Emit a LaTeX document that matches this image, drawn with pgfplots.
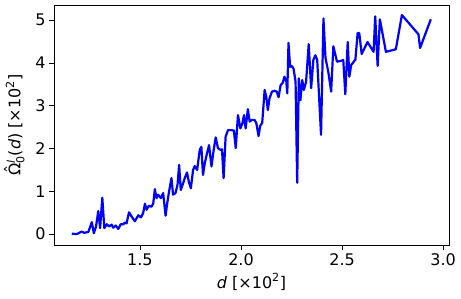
\documentclass[border=0pt]{standalone}
\usepackage{fontspec}
\setmainfont{DejaVu Sans}
\usepackage{pgfplots}
\pgfplotsset{compat=1.18}
\newcommand{\hatOmega}{\setbox0\hbox{Ω}\rlap{\hbox to \wd0{\hss\raisebox{0.22em}{ˆ}\hss}}\box0}
\begin{document}
\begin{tikzpicture}
\begin{axis}[
  scale only axis, width=395pt, height=240pt,
  xmin=1.075, xmax=3.029, ymin=-0.255, ymax=5.355,
  xtick={1.5,2.0,2.5,3.0}, xticklabels={1.5,2.0,2.5,3.0},
  ytick={0,1,2,3,4,5},
  tick align=outside, tick pos=left,
  major tick length=5pt,
  tick style={black, line width=0.8pt},
  axis line style={line width=0.8pt},
  ticklabel style={font=\fontsize{16}{18}\selectfont},
  /pgf/number format/assume math mode=true,
  label style={font=\fontsize{16}{18}\selectfont},
  xlabel={\textit{d} [×10\textsuperscript{2}]},
  ylabel={\hatOmega\rlap{\raisebox{0.6ex}{\fontsize{11}{11}\selectfont\textit{l}}}\raisebox{-0.45ex}{\fontsize{11}{11}\selectfont 0}(\textit{d}) [×10\textsuperscript{2}]},
  xlabel style={at={(axis description cs:0.5,0)}, anchor=north, yshift=-25pt},
  ylabel style={at={(axis description cs:0,0.5)}, anchor=south, yshift=26pt},
]
\addplot[color={rgb,255:red,0;green,0;blue,255}, line width=2.2pt, line join=round] coordinates {
(1.163,0.01) (1.188,0.00) (1.212,0.06) (1.225,0.03) (1.245,0.05) (1.262,0.28)
(1.272,0.02) (1.283,0.18) (1.294,0.54) (1.303,0.14) (1.314,0.85) (1.324,0.14)
(1.336,0.23) (1.347,0.18) (1.360,0.22) (1.368,0.15) (1.380,0.20) (1.393,0.12)
(1.405,0.23) (1.418,0.23) (1.426,0.27) (1.434,0.25) (1.446,0.51) (1.459,0.41)
(1.475,0.30) (1.492,0.44) (1.505,0.39) (1.516,0.49) (1.525,0.71) (1.533,0.57)
(1.544,0.66) (1.558,0.64) (1.566,0.72) (1.574,1.05) (1.582,0.84) (1.590,0.92)
(1.604,0.84) (1.615,0.96) (1.627,0.43) (1.635,0.72) (1.643,0.96) (1.656,1.31)
(1.664,0.92) (1.676,0.96) (1.686,1.15) (1.694,1.62) (1.702,1.03) (1.714,1.19)
(1.722,1.31) (1.733,1.44) (1.743,1.20) (1.752,1.07) (1.763,1.50) (1.771,1.59)
(1.783,1.50) (1.796,1.97) (1.804,2.04) (1.812,1.38) (1.821,1.66) (1.832,1.89)
(1.842,2.08) (1.854,1.58) (1.865,1.97) (1.875,2.26) (1.886,2.01) (1.898,1.97)
(1.906,1.98) (1.914,1.31) (1.924,2.28) (1.936,2.43) (1.952,2.43) (1.965,2.42)
(1.974,2.01) (1.985,2.78) (1.997,2.47) (2.007,2.59) (2.015,2.78) (2.023,2.47)
(2.034,2.92) (2.043,2.63) (2.054,2.67) (2.067,2.67) (2.076,2.59) (2.087,2.29)
(2.095,2.53) (2.105,2.60) (2.117,3.37) (2.125,3.21) (2.133,2.90) (2.141,3.17)
(2.153,3.33) (2.166,3.35) (2.177,3.33) (2.186,3.20) (2.196,3.48) (2.207,3.54)
(2.215,3.68) (2.224,3.58) (2.229,3.29) (2.235,4.47) (2.243,3.91) (2.251,3.93)
(2.260,3.87) (2.270,3.56) (2.278,1.20) (2.286,3.64) (2.294,3.13) (2.303,3.60)
(2.311,3.37) (2.322,3.56) (2.335,4.44) (2.347,3.41) (2.358,4.07) (2.368,4.18)
(2.377,4.07) (2.396,2.32) (2.408,5.04) (2.418,4.12) (2.432,3.79) (2.446,3.33)
(2.457,4.39) (2.475,4.03) (2.495,4.05) (2.506,4.07) (2.516,3.27) (2.528,4.49)
(2.536,3.68) (2.545,3.95) (2.566,4.08) (2.577,4.70) (2.585,4.70) (2.597,4.21)
(2.626,4.49) (2.656,4.26) (2.664,5.09) (2.676,3.93) (2.687,5.02) (2.717,4.26)
(2.766,4.32) (2.796,5.12) (2.878,4.67) (2.886,4.35) (2.939,5.02)
};
\end{axis}
\pgfresetboundingbox
\path[use as bounding box] ([xshift=-54pt,yshift=-53pt]current axis.south west) rectangle ([xshift=12pt,yshift=5pt]current axis.north east);
\end{tikzpicture}
\end{document}
